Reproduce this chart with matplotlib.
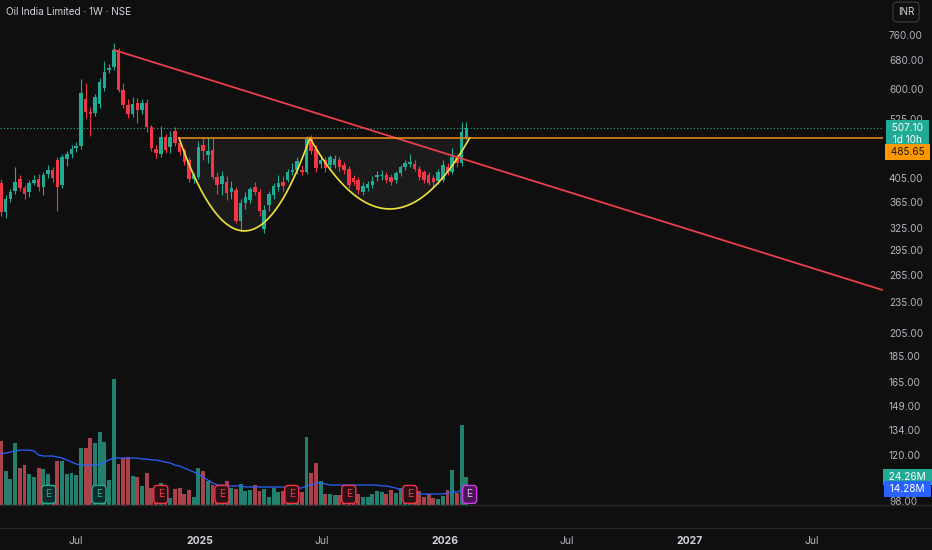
import matplotlib
matplotlib.use("Agg")
import matplotlib.pyplot as plt
import matplotlib.dates as mdates
import matplotlib.transforms as mtransforms
from matplotlib.lines import Line2D
import numpy as np
import pandas as pd

plt.rcParams["font.family"] = ["Inter", "DejaVu Sans"]

# Oil India Limited, weekly candles (NSE)
first_week = "2024-03-11"
opens = [398, 350, 372, 385, 405, 389, 382, 399, 406, 391,
         414, 422, 441, 394, 443, 452, 464, 468, 575, 545,
         541, 563, 604, 654, 662, 714, 600, 562, 540, 566,
         549, 567, 510, 462, 452, 488, 467, 500, 475, 460,
         441, 405, 409, 470, 450, 460, 409, 397, 400, 383,
         386, 337, 365, 370, 392, 382, 326, 361, 378, 391,
         400, 404, 418, 422, 422, 418, 483, 462, 433, 441,
         431, 431, 441, 431, 424, 407, 404, 383, 390, 395,
         409, 410, 413, 409, 404, 416, 427, 433, 433, 424,
         418, 413, 407, 402, 404, 427, 418, 444, 435, 488]
highs = [405, 378, 388, 428, 412, 395, 403, 412, 414, 418,
         432, 428, 446, 452, 458, 470, 476, 628, 618, 556,
         590, 632, 682, 672, 737, 722, 618, 575, 580, 578,
         576, 576, 515, 470, 512, 495, 500, 510, 480, 465,
         446, 416, 480, 486, 485, 485, 418, 420, 410, 402,
         392, 372, 382, 392, 400, 388, 362, 384, 398, 412,
         410, 424, 434, 447, 432, 490, 492, 470, 450, 447,
         451, 450, 446, 437, 430, 412, 409, 400, 402, 410,
         420, 422, 418, 414, 420, 432, 441, 452, 440, 430,
         422, 418, 412, 424, 440, 435, 464, 452, 520, 521]
lows = [345, 342, 366, 380, 385, 372, 375, 394, 385, 378,
        408, 400, 352, 390, 430, 445, 456, 462, 530, 490,
        534, 555, 596, 645, 655, 595, 555, 530, 532, 518,
        540, 498, 458, 445, 446, 455, 455, 468, 450, 432,
        400, 398, 405, 440, 435, 405, 380, 378, 370, 372,
        334, 322, 355, 365, 377, 345, 320, 352, 372, 385,
        385, 400, 412, 415, 412, 414, 452, 418, 425, 418,
        425, 425, 420, 415, 390, 395, 380, 378, 385, 390,
        402, 404, 398, 394, 398, 410, 422, 428, 419, 403,
        398, 394, 390, 396, 400, 412, 414, 428, 430, 484]
closes = [350, 372, 383, 400, 389, 380, 399, 404, 391, 412,
          422, 408, 391, 447, 452, 463, 468, 592, 544, 540,
          580, 620, 650, 661, 715, 600, 562, 540, 564, 549,
          565, 510, 465, 454, 488, 460, 488, 475, 456, 437,
          406, 412, 467, 459, 458, 409, 395, 411, 381, 390,
          337, 365, 374, 388, 382, 352, 354, 380, 393, 398,
          393, 418, 422, 439, 418, 483, 458, 425, 441, 425,
          446, 443, 427, 422, 395, 400, 386, 393, 397, 402,
          413, 412, 404, 400, 416, 427, 435, 437, 424, 409,
          404, 398, 400, 418, 431, 418, 446, 435, 498, 507.10]

# volume in millions, and its moving average as shown by the indicator
volume_m = [55.4, 29.4, 22.5, 53.7, 32.0, 34.6, 26.8, 24.2, 32.0, 31.2,
            26.8, 17.3, 38.1, 38.1, 26.8, 27.7, 26.0, 49.4, 49.4, 58.0,
            53.7, 63.2, 54.6, 21.7, 109.1, 35.5, 40.7, 41.6, 25.1, 24.2,
            16.5, 27.7, 14.7, 13.9, 19.1, 12.1, 6.1, 13.9, 14.7, 9.5,
            13.0, 6.9, 32.0, 29.4, 20.8, 17.3, 14.7, 13.9, 20.8, 14.7,
            13.9, 18.2, 12.1, 13.0, 17.3, 12.1, 13.9, 6.9, 14.7, 11.3,
            12.1, 10.4, 10.4, 10.4, 11.3, 58.9, 27.7, 36.4, 20.8, 9.5,
            9.5, 8.7, 8.7, 12.1, 10.4, 10.4, 9.5, 6.9, 6.9, 9.5,
            12.1, 11.3, 9.5, 13.0, 10.4, 14.7, 10.4, 12.1, 11.3, 12.1,
            6.9, 9.5, 6.1, 5.2, 7.8, 13.0, 30.3, 10.4, 69.3, 24.26]
volume_ma_m = [44.2, 45.0, 45.9, 46.8, 47.6, 47.6, 47.6, 46.8, 43.3, 42.4,
               42.4, 42.4, 41.6, 40.7, 39.0, 37.2, 35.5, 34.6, 34.6, 34.6,
               34.6, 35.5, 37.2, 39.0, 40.7, 40.7, 40.7, 40.7, 40.7, 40.7,
               39.8, 39.8, 39.0, 39.0, 38.1, 37.2, 36.4, 34.6, 33.8, 32.0,
               30.3, 28.6, 26.8, 24.2, 21.7, 19.1, 17.3, 17.3, 16.5, 16.5,
               16.5, 16.5, 15.6, 15.6, 15.6, 15.6, 15.6, 15.6, 15.6, 15.6,
               15.6, 15.6, 14.7, 14.7, 14.7, 16.5, 17.3, 19.1, 19.1, 18.2,
               17.3, 17.3, 17.3, 17.3, 17.3, 17.3, 17.3, 17.3, 17.3, 17.3,
               17.3, 16.5, 16.5, 15.6, 14.7, 13.0, 11.3, 10.4, 9.5, 9.5,
               9.5, 9.5, 9.5, 9.5, 9.5, 10.4, 11.3, 11.3, 13.0, 14.28]

price_ticks = [760, 680, 600, 525, 405, 365, 325, 295, 265, 235,
               205, 185, 165, 149, 134, 120, 98]
time_ticks = ["2024-07-01", "2025-01-01", "2025-07-01", "2026-01-01",
              "2026-07-01", "2027-01-01", "2027-07-01"]
time_labels = ["Jul", "2025", "Jul", "2026", "Jul", "2027", "Jul"]

# drawings on the chart
neckline = 485.65
trend_start = ("2024-08-26", 715)
trend_end = ("2027-10-14", 249)
cups = [("2024-12-01", "2025-06-14", 322.6),
        ("2025-06-14", "2026-02-07", 355.3)]
earnings_dates = ["2024-05-21", "2024-08-04", "2024-11-04", "2025-02-03",
                  "2025-05-18", "2025-08-11", "2025-11-10", "2026-02-07"]
earnings_kind = ["up", "up", "down", "down", "down", "down", "down", "next"]

BG = "#0f0f0f"
UP = "#22ab94"
DOWN = "#f23645"
TXT = "#b2b5be"

W, H = 932, 550
plot_w, plot_h = 883, 505

fig = plt.figure(figsize=(W / 100, H / 100), dpi=100, facecolor=BG)
rect = [0, 1 - plot_h / H, plot_w / W, plot_h / H]
ax_vol = fig.add_axes(rect, facecolor=BG)
ax = fig.add_axes(rect, facecolor="none")
ax_ps = fig.add_axes([plot_w / W, 1 - plot_h / H, 1 - plot_w / W, plot_h / H],
                     facecolor=BG)

dates = mdates.date2num(pd.date_range(first_week, periods=len(closes), freq="7D"))
o = np.array(opens, float)
h = np.array(highs, float)
l = np.array(lows, float)
c = np.array(closes, float)
up = c >= o
col = np.where(up, UP, DOWN)

px_per_day = 4.70 / 7
x_left = dates[0] - 1.5
x_right = x_left + plot_w / px_per_day
ymin, ymax = 96.7, 890.3

for a in (ax, ax_vol):
    a.set_xlim(x_left, x_right)
ax.set_yscale("log")
ax.set_ylim(ymin, ymax)

# volume pane (overlay at the bottom)
vol_per_px = 24.26 / 28
ax_vol.set_ylim(0, plot_h * vol_per_px)
vcol = np.where(up, "#23806f", "#a9424a")
ax_vol.bar(dates, volume_m, width=5.8, color=vcol, linewidth=0)
ax_vol.plot(dates, volume_ma_m, color="#2962ff", lw=0.9)
ax_vol.axis("off")

# cup & handle shading and arcs
for start, end, bottom in cups:
    t0, t1 = mdates.datestr2num(start), mdates.datestr2num(end)
    t = np.linspace(t0, t1, 200)
    u = (t - (t0 + t1) / 2) / ((t1 - t0) / 2)
    curve = np.exp(np.log(neckline) + (np.log(bottom) - np.log(neckline)) * (1 - u ** 2))
    ax.fill_between(t, curve, neckline, color="#1b1b1b", lw=0, zorder=0.5)
    ax.plot(t, curve, color="#f0e23c", lw=1.2, zorder=3)

# candles
ax.vlines(dates, l, h, colors=col, lw=0.8, zorder=2)
ax.bar(dates, np.maximum(np.abs(c - o), 0.8), bottom=np.minimum(o, c),
       width=5.3, color=col, linewidth=0, zorder=2)

# trend line, neckline, last price
ax.plot([mdates.datestr2num(trend_start[0]), mdates.datestr2num(trend_end[0])],
        [trend_start[1], trend_end[1]], color="#ec3f4b", lw=1.3, zorder=4)
ax.plot([mdates.datestr2num(cups[0][0]), x_right], [neckline, neckline],
        color="#f0901e", lw=1.1, zorder=4)
ax.axhline(c[-1], color=UP, lw=0.8, ls=(0, (1, 2)), zorder=1)

# earnings markers
blend = mtransforms.blended_transform_factory(ax.transData, ax.transAxes)
styles = {"up": ("#0e2b26", UP, UP),
          "down": ("#2b1115", DOWN, DOWN),
          "next": ("#4a1658", "#d13be8", "#e6a8f2")}
for d, k in zip(earnings_dates, earnings_kind):
    fc, ec, tc = styles[k]
    ax.text(mdates.datestr2num(d), 0.021, "E", transform=blend, ha="center",
            va="center", fontsize=7.5, color=tc, zorder=6,
            bbox=dict(boxstyle="round,pad=0.38,rounding_size=0.3", fc=fc,
                      ec=ec, lw=1.0))

ax.set_yticks([])
ax.yaxis.set_minor_locator(matplotlib.ticker.NullLocator())
ax.set_xticks(mdates.datestr2num(time_ticks))
ax.set_xticklabels(time_labels)
ax.tick_params(axis="x", length=0, pad=22, labelsize=7.5, labelcolor=TXT)
for lab in ax.get_xticklabels():
    if lab.get_text().isdigit():
        lab.set_fontweight("bold")
        lab.set_color("#d1d4dc")
for s in ax.spines.values():
    s.set_visible(False)

# price scale on the right
ax_ps.set_yscale("log")
ax_ps.set_ylim(ymin, ymax)
ax_ps.set_xlim(0, 1)
ax_ps.axis("off")
ps_blend = mtransforms.blended_transform_factory(ax_ps.transAxes, ax_ps.transData)
for p in price_ticks:
    ax_ps.text(0.12, p, f"{p:.2f}", transform=ps_blend, ha="left", va="center",
               fontsize=7.2, color=TXT, clip_on=True)

ax_ps.annotate(f" {c[-1]:.2f} \n 1d 10h ", xy=(0.5, c[-1]), xycoords=ps_blend,
               xytext=(0, -6), textcoords="offset pixels", ha="center",
               va="center", fontsize=7.2, color="white", linespacing=1.15,
               zorder=5, bbox=dict(boxstyle="square,pad=0.35", fc=UP, ec="none"))
ax_ps.annotate(f" {neckline:.2f} ", xy=(0.5, neckline), xycoords=ps_blend,
               xytext=(0, -14), textcoords="offset pixels", ha="center",
               va="center", fontsize=7.2, color="#1a1a1a", zorder=5,
               bbox=dict(boxstyle="square,pad=0.3", fc="#ff9800", ec="none"))

# volume tags
ax_vs = fig.add_axes([plot_w / W, 1 - plot_h / H, 1 - plot_w / W, plot_h / H],
                     facecolor="none")
ax_vs.set_ylim(0, plot_h * vol_per_px)
ax_vs.set_xlim(0, 1)
ax_vs.axis("off")
vs_blend = mtransforms.blended_transform_factory(ax_vs.transAxes, ax_vs.transData)
ax_vs.annotate(f" {volume_m[-1]:.2f}M ", xy=(0.5, volume_m[-1]), xycoords=vs_blend,
               ha="center", va="center", fontsize=7.2, color="white",
               bbox=dict(boxstyle="square,pad=0.3", fc=UP, ec="none"))
ax_vs.annotate(f" {volume_ma_m[-1]:.2f}M ", xy=(0.5, volume_ma_m[-1]),
               xycoords=vs_blend, ha="center", va="center", fontsize=7.2,
               color="white",
               bbox=dict(boxstyle="square,pad=0.3", fc="#2962ff", ec="none"))

# header and currency box
fig.text(6 / W, 1 - 12 / H, "Oil India Limited \u00b7 1W \u00b7 NSE",
         fontsize=7.2, color="#d1d4dc", va="center", ha="left")
fig.text(906 / W, 1 - 12 / H, "INR", fontsize=7, color="#d1d4dc",
         va="center", ha="center",
         bbox=dict(boxstyle="round,pad=0.5,rounding_size=0.4", fc=BG,
                   ec="#3a3d45", lw=0.8))

# pane separators
for yy in (505, 528):
    fig.add_artist(Line2D([0, 1], [1 - yy / H, 1 - yy / H], color="#2a2a2a",
                          lw=1, transform=fig.transFigure))

fig.savefig("out.png", dpi=100, facecolor=BG)
